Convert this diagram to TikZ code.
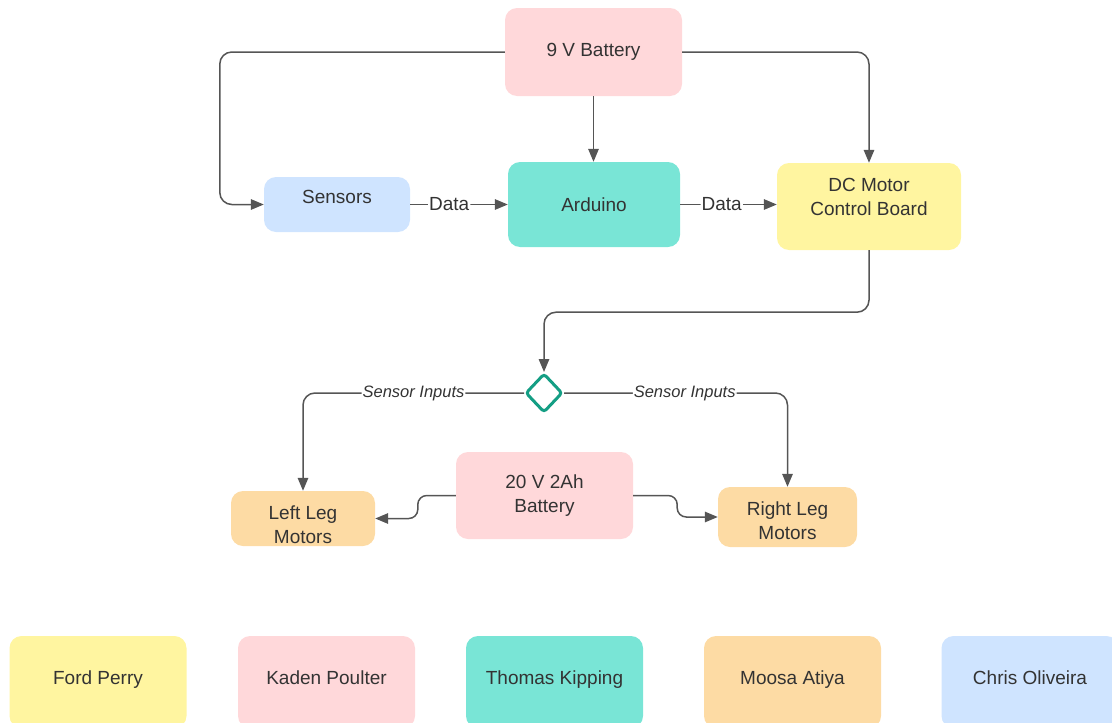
\documentclass[tikz,border=0pt]{standalone}
\usepackage{fontspec}
\setmainfont{Liberation Sans}
\usetikzlibrary{arrows.meta,shapes.geometric}
\definecolor{pinkbox}{RGB}{255,216,218}
\definecolor{tealbox}{RGB}{121,229,214}
\definecolor{bluebox}{RGB}{207,228,255}
\definecolor{yelbox}{RGB}{255,245,160}
\definecolor{orabox}{RGB}{253,219,164}
\definecolor{tealdark}{RGB}{20,158,132}
\definecolor{wirecol}{RGB}{85,85,85}
\definecolor{txt}{RGB}{51,51,51}
\tikzset{>={Triangle[length=13pt,width=10.5pt]}}
\tikzset{
  box/.style={rounded corners=12pt, fill=#1, text=txt, align=center, inner sep=0pt,
    font=\fontsize{19}{24}\selectfont},
  wire/.style={draw=wirecol, line width=1.5pt, rounded corners=12pt},
  tag/.style={fill=white, text=txt, inner sep=1pt, font=\fontsize{19}{22}\selectfont},
  itag/.style={tag, font=\fontsize{16.5}{20}\selectfont\itshape},
}

\begin{document}
\begin{tikzpicture}[x=1pt, y=-1pt]
      \useasboundingbox (0,0) rectangle (1112,723);
      \clip (0,0) rectangle (1112,723);

      \node[box=pinkbox, minimum width=177pt, minimum height=88pt](bat9) at (593.5, 52) {9 V Battery};
      \node[box=bluebox, minimum width=146pt, minimum height=55pt, text height=14pt, text depth=17pt](sens) at (337, 204.5) {Sensors};
      \node[box=tealbox, minimum width=172pt, minimum height=85pt](ard) at (594, 204.5) {Arduino};
      \node[box=yelbox, minimum width=184pt, minimum height=87pt, text height=38pt, text depth=20pt](dcm) at (869, 206.5) {DC Motor\\Control Board};

      \node[diamond, draw=tealdark, line width=3pt, fill=white, rounded corners=3pt, inner sep=0pt,
        minimum width=37pt, minimum height=39pt](dia) at (544, 393) {};

      \node[box=orabox, minimum width=144pt, minimum height=55pt, text height=50pt, text depth=0pt](lleg) at (303, 518.5) {Left Leg\\Motors};
      \node[box=pinkbox, minimum width=177pt, minimum height=87pt](bat20) at (544.5, 495.5) {20 V 2Ah\\Battery};
      \node[box=orabox, minimum width=139pt, minimum height=60pt, text height=44pt, text depth=0pt](rleg) at (787.5, 517) {Right Leg\\Motors};

      \draw[wire, ->] (bat9.west) -- ++(-285, 0) |- (sens.west);
      \draw[wire, ->] (bat9.east) -| (dcm.north);
      \draw[wire, ->] (bat9.south) -- (bat9.south |- ard.north);
      \draw[wire, ->] (sens.east) -- node[tag, pos=0.4] {Data} (sens.east -| ard.west);
      \draw[wire, ->] (ard.east) -- node[tag, pos=0.43] {Data} (ard.east -| dcm.west);
      \draw[wire, ->] (dcm.south) -- ++(0, 62) -| (dia.north);

      \draw[wire, ->] (dia.west) -| node[itag, pos=0.25] {Sensor Inputs} (lleg.north);
      \draw[wire, ->] (dia.east) -| node[itag, pos=0.27] {Sensor Inputs} (rleg.north);

      \draw[wire, rounded corners=9pt, ->] (bat20.west) -- ++(-38, 0) |- (lleg.east);
      \draw[wire, rounded corners=9pt, ->] (bat20.east) -- ++(44, 0) |- (rleg.west);

      \foreach \n/\x/\c [count=\i] in {Ford Perry/98/yelbox, Kaden Poulter/326.5/pinkbox,
          Thomas Kipping/554.5/tealbox, Moosa Atiya/792.5/orabox, Chris Oliveira/1030/bluebox} {
        \node[box=\c, minimum width=177pt, minimum height=92pt, text height=14pt, text depth=10pt](name\i) at (\x, 682) {\n};
      }
    \end{tikzpicture}
\end{document}
